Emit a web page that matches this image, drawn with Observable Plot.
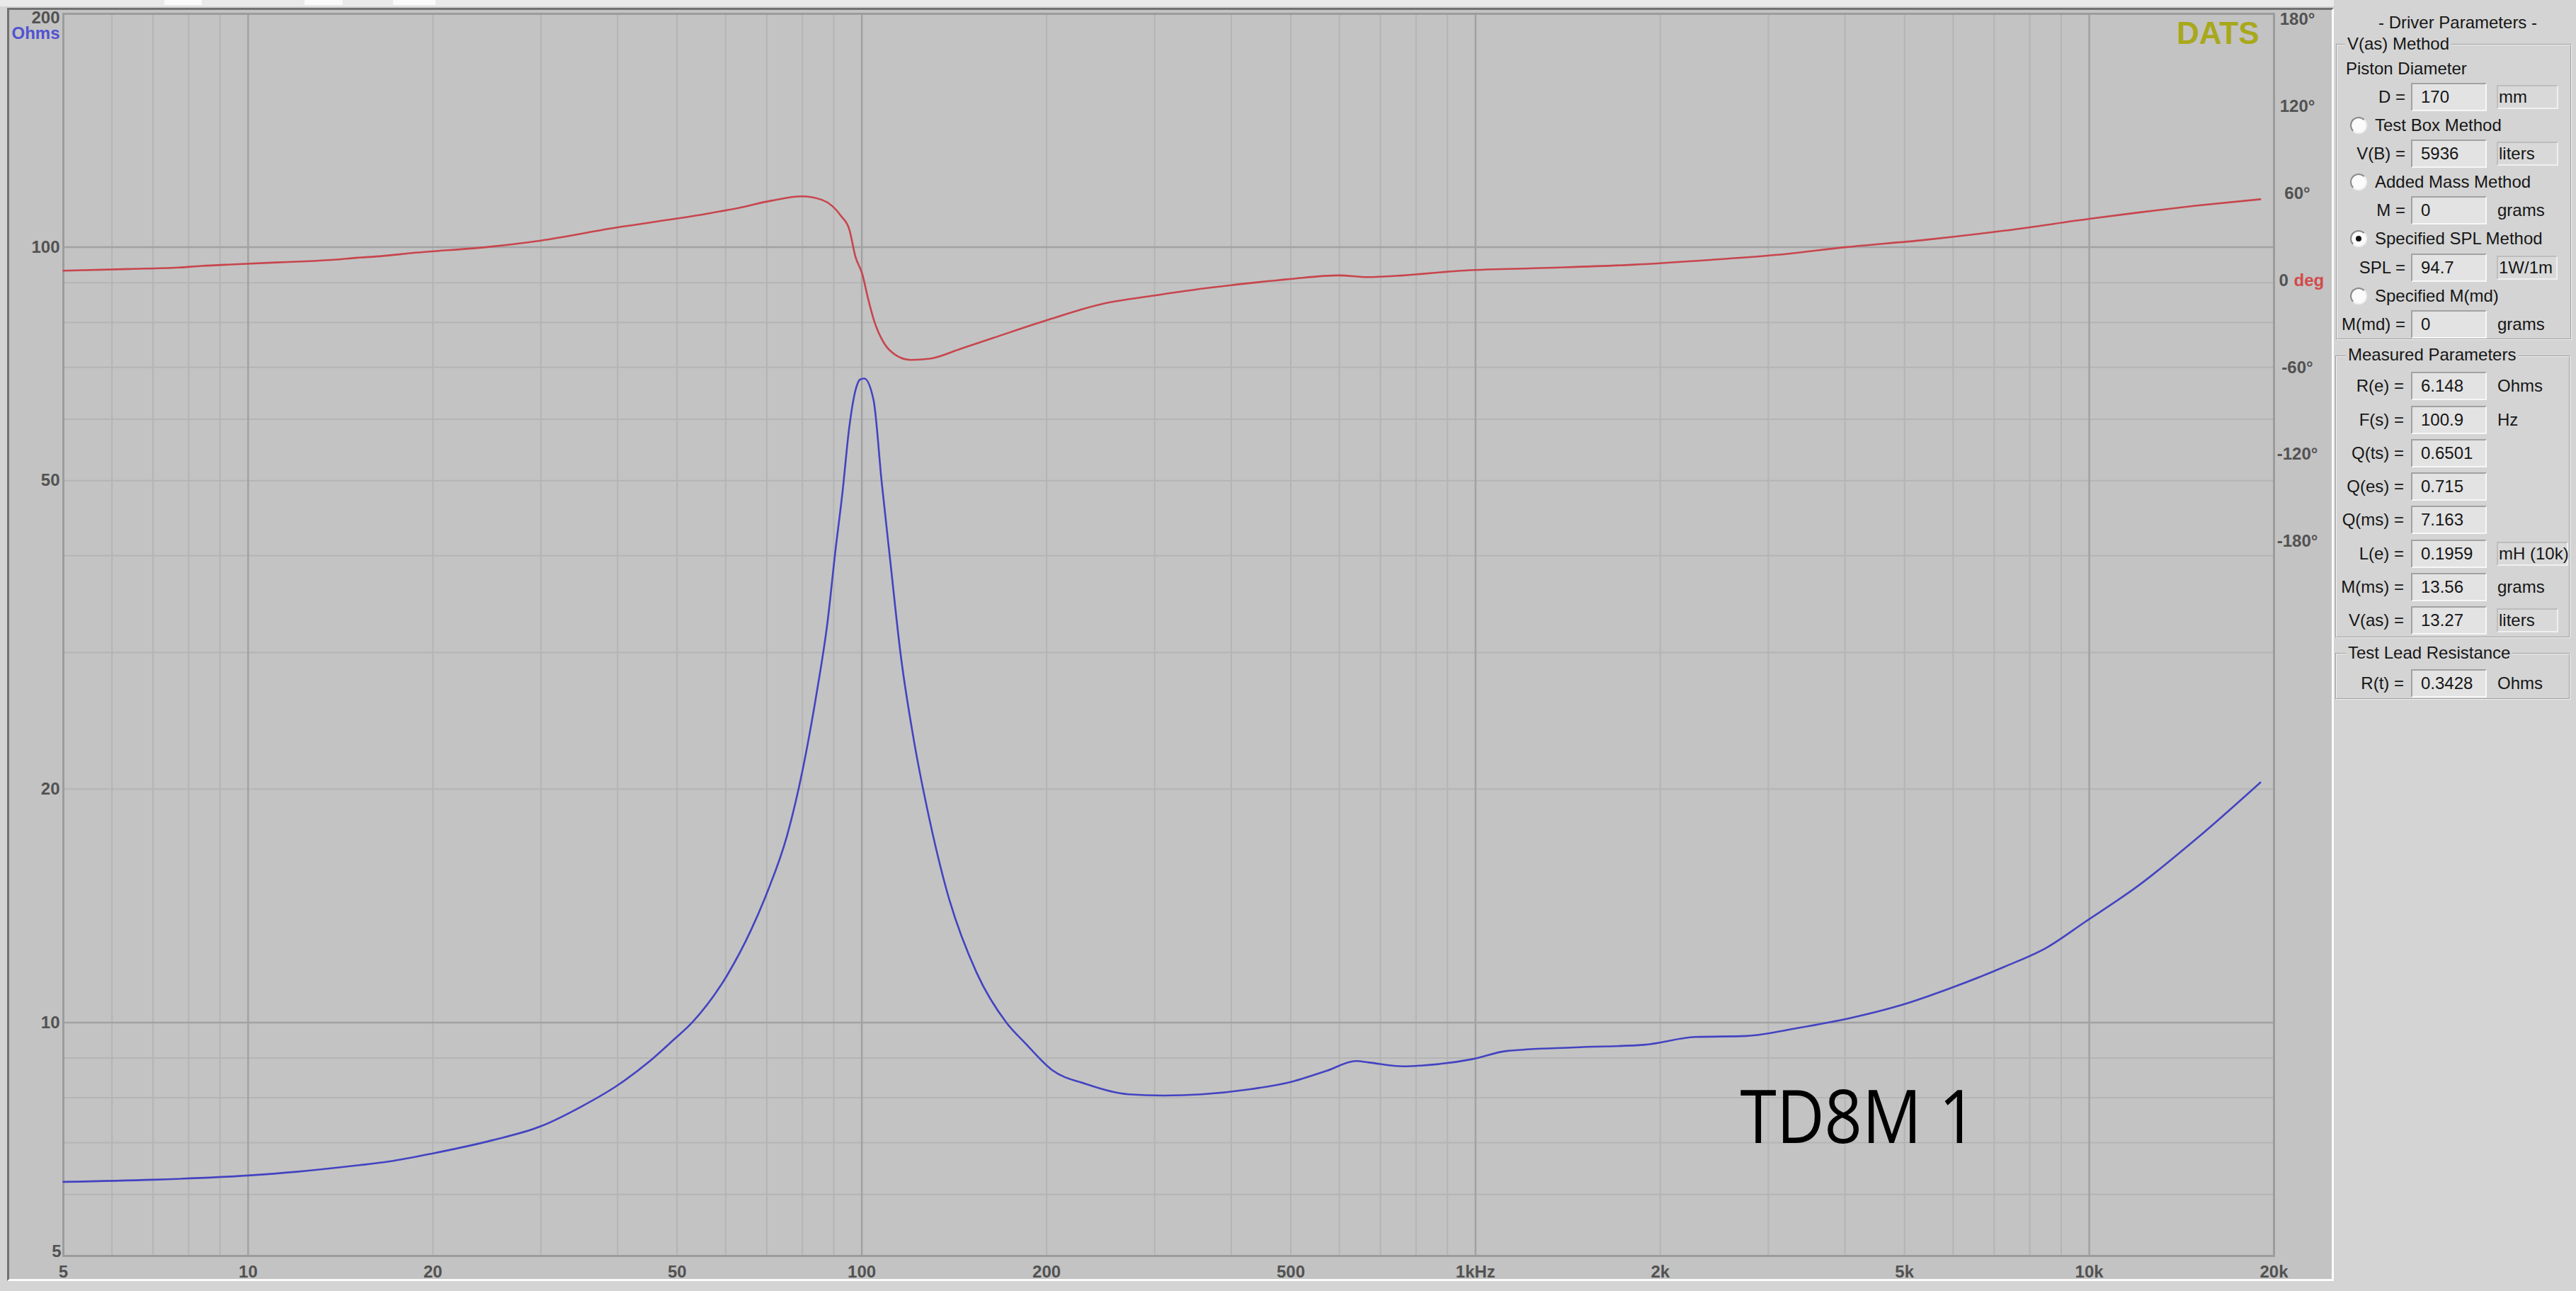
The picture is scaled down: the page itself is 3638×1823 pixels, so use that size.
<!DOCTYPE html>
<html>
<head>
<meta charset="utf-8">
<script src="https://cdn.jsdelivr.net/npm/d3@7"></script>
<script src="https://cdn.jsdelivr.net/npm/@observablehq/plot@0.6"></script>
<style>
html,body{margin:0;padding:0;}
body{width:3638px;height:1823px;background:#d4d4d4;position:relative;overflow:hidden;font-family:"Liberation Sans",Arial,sans-serif;color:#161616;}
.abs{position:absolute;box-sizing:border-box;}
#win{left:10px;top:11px;width:3286px;height:1798px;background:#c3c3c3;border-left:3px solid #727272;border-top:3px solid #727272;border-right:3px solid #fbfbfb;border-bottom:3px solid #fbfbfb;}
.svgwrap{position:absolute;left:0;top:0;}
.lbl{position:absolute;font-size:24px;line-height:28px;height:28px;white-space:nowrap;}
.box{position:absolute;box-sizing:border-box;height:40px;background:#e3e3e3;border-top:2px solid #a2a2a2;border-left:2px solid #a2a2a2;border-bottom:2px solid #f7f7f7;border-right:2px solid #f7f7f7;font-size:24px;line-height:36px;padding-left:12px;white-space:nowrap;}
.ubox{position:absolute;box-sizing:border-box;height:34px;background:#d9d9d9;border-top:2px solid #bdbdbd;border-left:2px solid #bdbdbd;border-bottom:2px solid #efefef;border-right:2px solid #efefef;font-size:24px;line-height:30px;padding-left:1px;white-space:nowrap;}
.grp{position:absolute;box-sizing:border-box;border:2px groove #f2f2f2;}
.gtitle{position:absolute;font-size:24px;line-height:28px;height:28px;background:#d4d4d4;padding:0 3px;white-space:nowrap;}
.radio{position:absolute;box-sizing:border-box;width:24px;height:24px;border-radius:50%;background:#fbfbfb;border-top:2px solid #8a8a8a;border-left:2px solid #8a8a8a;border-bottom:2px solid #f0f0f0;border-right:2px solid #f0f0f0;}
.dot{position:absolute;width:8px;height:8px;border-radius:50%;background:#111;left:6px;top:6px;}
</style>
</head>
<body>
<div class="abs" style="left:0;top:0;width:3296px;height:9px;background:#e9e9e9;"></div>
<div class="abs" style="left:232px;top:0;width:53px;height:7px;background:#fafafa;"></div>
<div class="abs" style="left:430px;top:0;width:54px;height:7px;background:#fafafa;"></div>
<div class="abs" style="left:555px;top:0;width:60px;height:7px;background:#fafafa;"></div>
<div id="win" class="abs"></div>
<div id="impwrap" class="svgwrap"></div>
<div id="phwrap" class="svgwrap"></div>
<script>
// ---------- data ----------
const impFreq = [5, 7, 10, 12, 15, 17, 20, 25, 30, 35, 40, 45, 49.2, 52.9, 60.3, 66.1, 70.3, 75.5, 80.2, 84.4, 87.9, 90.5, 93.0, 95.4, 97.7, 99.3, 100.9, 104.5, 107.7, 111.1, 115.7, 121.7, 128.1, 137.5, 153.8, 172, 185, 204, 232, 272, 310, 358, 428, 502, 571, 639, 671, 763, 814, 988, 1123, 1454, 1881, 2280, 2765, 3356, 4072, 4938, 5988, 7269, 8536, 9866, 12000, 15000, 19000];
const impOhm = [6.23, 6.27, 6.35, 6.42, 6.54, 6.62, 6.78, 7.05, 7.35, 7.8, 8.3, 8.9, 9.48, 10.0, 11.5, 13.2, 14.8, 17.4, 21.3, 26.6, 32.8, 40.4, 48.3, 58.6, 65.5, 67.5, 67.7, 63.5, 49.9, 39.8, 29.8, 23.0, 18.7, 14.8, 11.6, 10.0, 9.39, 8.69, 8.33, 8.08, 8.05, 8.08, 8.20, 8.39, 8.66, 8.92, 8.88, 8.78, 8.80, 8.97, 9.19, 9.29, 9.36, 9.58, 9.61, 9.84, 10.13, 10.53, 11.1, 11.8, 12.5, 13.5, 15.0, 17.3, 20.4];
const phaseFreq = [5, 6.4, 7.7, 8.4, 9.5, 11.1, 12.4, 13.8, 15.1, 16.5, 18.5, 25, 30, 40, 50, 56.2, 63.3, 71.2, 79.8, 86.2, 92.6, 95.4, 97.6, 100.2, 102.3, 104.8, 108.6, 113.2, 120.1, 129, 145.2, 163.6, 200, 247.6, 300, 361, 403, 499, 599, 666, 764, 946, 1246, 1796, 2435, 3108, 4028, 5382, 7301, 10050, 11890, 14890, 19000];
const phaseDeg = [6.7, 7.9, 8.9, 10.0, 11.1, 12.4, 13.2, 14.3, 15.7, 16.8, 18.9, 23.4, 27.5, 36.6, 42.7, 46.2, 50.2, 55.0, 58.0, 55.5, 44.2, 35.2, 16.5, 4.2, -12.0, -28.3, -43.0, -51.1, -54.8, -54.0, -47.0, -39.7, -27.5, -16.0, -10.4, -5.5, -3.1, 1.0, 3.5, 2.3, 3.5, 6.7, 8.4, 10.8, 14.3, 17.7, 23.0, 27.9, 34.4, 42.6, 46.6, 51.5, 56.0];

const xTicks = [5, 10, 20, 50, 100, 200, 500, 1000, 2000, 5000, 10000, 20000];
const xTickLabels = ["5", "10", "20", "50", "100", "200", "500", "1kHz", "2k", "5k", "10k", "20k"];
const yTicksMid = [100, 50, 20, 10];
const yTickTop = [200];
const yTickBottom = [5];
const yUnit = ["Ohms"];
const phaseTicks = [180, 120, 60, -60, -120, -180];
const gridFreqMinor = [6,7,8,9,20,30,40,50,60,70,80,90,200,300,400,500,600,700,800,900,2000,3000,4000,5000,6000,7000,8000,9000];
const gridFreqMajor = [10, 100, 1000, 10000];
const gridOhmMinor = [6,7,8,9,20,30,40,50,60,70,80,90];
const gridOhmMajor = [10, 100];
const brand = ["DATS"];
const annotation = ["TD8M 1"];

// ---------- chart ----------
const W = 3638, H = 1823;
const mL = 89, mR = W - 3211, mT = 19, mB = H - 1773;
const impData = impFreq.map((f, i) => ({f, z: impOhm[i]}));
const phData = phaseFreq.map((f, i) => ({f, d: phaseDeg[i]}));
const tickFont = {fontSize: 24, fontWeight: "bold", fill: "#525252"};

const imp = Plot.plot({
  width: W, height: H,
  marginLeft: mL, marginRight: mR, marginTop: mT, marginBottom: mB,
  style: {background: "transparent", fontFamily: "Liberation Sans, Arial, sans-serif"},
  x: {type: "log", domain: [5, 20000], axis: null},
  y: {type: "log", domain: [5, 200], axis: null},
  marks: [
    Plot.ruleX(gridFreqMinor, {stroke: "#b4b4b4", strokeWidth: 2}),
    Plot.ruleY(gridOhmMinor, {stroke: "#b4b4b4", strokeWidth: 2}),
    Plot.ruleX(gridFreqMajor, {stroke: "#a2a2a2", strokeWidth: 2.5}),
    Plot.ruleY(gridOhmMajor, {stroke: "#a2a2a2", strokeWidth: 2.5}),
    Plot.frame({stroke: "#9c9c9c", strokeWidth: 3}),
    Plot.line(impData, {x: "f", y: "z", stroke: "#4343c2", strokeWidth: 2.6, curve: "monotone-x"}),
    Plot.text(xTicks, {x: d => d, frameAnchor: "bottom", text: (d, i) => xTickLabels[i], dy: 13, lineAnchor: "top", textAnchor: "middle", ...tickFont}),
    Plot.text(yTicksMid, {frameAnchor: "left", y: d => d, text: d => String(d), dx: -5, lineAnchor: "middle", textAnchor: "end", ...tickFont}),
    Plot.text(yTickTop, {frameAnchor: "left", y: d => d, text: d => String(d), dx: -5, dy: 6, lineAnchor: "middle", textAnchor: "end", ...tickFont}),
    Plot.text(yTickBottom, {frameAnchor: "left", y: d => d, text: d => String(d), dx: -3, dy: -6, lineAnchor: "middle", textAnchor: "end", ...tickFont}),
    Plot.text(yUnit, {frameAnchor: "top-left", text: d => d, dx: -5, dy: 28, lineAnchor: "middle", textAnchor: "end", fontSize: 24, fontWeight: "bold", fill: "#5252d2"}),
    Plot.text(brand, {frameAnchor: "top-right", text: d => d, dx: -21, dy: 28, lineAnchor: "middle", textAnchor: "end", fontSize: 44, fontWeight: "bold", fill: "#a8a81c"}),
    Plot.text(annotation, {frameAnchor: "top-left", text: d => d, dx: 2457 - mL, dy: 1580 - mT, lineAnchor: "middle", textAnchor: "start", fontSize: 105, fontFamily: "Open Sans", fill: "#000"})
  ]
});
d3.select(imp).selectAll("text").filter(function(){ return this.textContent === "TD8M 1"; })
  .attr("textLength", 334).attr("lengthAdjust", "spacingAndGlyphs");
document.getElementById("impwrap").appendChild(imp);

const ph = Plot.plot({
  width: W, height: H,
  marginLeft: mL, marginRight: mR, marginTop: 27, marginBottom: H - 764,
  style: {background: "transparent", fontFamily: "Liberation Sans, Arial, sans-serif"},
  x: {type: "log", domain: [5, 20000], axis: null},
  y: {domain: [-180, 180], axis: null},
  marks: [
    Plot.line(phData, {x: "f", y: "d", stroke: "#c8454d", strokeWidth: 2.6, curve: "monotone-x"}),
    Plot.text(phaseTicks, {frameAnchor: "right", y: d => d, text: d => d + "°", dx: 33, lineAnchor: "middle", textAnchor: "middle", ...tickFont}),
    Plot.text(["0"], {frameAnchor: "right", y: () => 0, text: d => d, dx: 7, lineAnchor: "middle", textAnchor: "start", ...tickFont}),
    Plot.text(["deg"], {frameAnchor: "right", y: () => 0, text: d => d, dx: 28, lineAnchor: "middle", textAnchor: "start", fontSize: 24, fontWeight: "bold", fill: "#d24a4a"})
  ]
});
document.getElementById("phwrap").appendChild(ph);

// ---------- right panel (UI texts) ----------
const g1Fields = [
  {y: 137, label: "D =", value: "170", unit: "mm", ubox: true},
  {y: 217, label: "V(B) =", value: "5936", unit: "liters", ubox: true},
  {y: 297, label: "M =", value: "0", unit: "grams", ubox: false},
  {y: 378, label: "SPL =", value: "94.7", unit: "1W/1m", ubox: true},
  {y: 458, label: "M(md) =", value: "0", unit: "grams", ubox: false}
];
const g1Radios = [
  {y: 177, label: "Test Box Method", on: false},
  {y: 257, label: "Added Mass Method", on: false},
  {y: 337, label: "Specified SPL Method", on: true},
  {y: 418, label: "Specified M(md)", on: false}
];
const g2Labels = ["R(e) =", "F(s) =", "Q(ts) =", "Q(es) =", "Q(ms) =", "L(e) =", "M(ms) =", "V(as) ="];
const g2Values = ["6.148", "100.9", "0.6501", "0.715", "7.163", "0.1959", "13.56", "13.27"];
const g2Units = ["Ohms", "Hz", "", "", "", "mH (10k)", "grams", "liters"];
const g2Rows = [545, 593, 640, 687, 734, 782, 829, 876];

function add(cls, style, text) {
  const e = document.createElement("div");
  e.className = cls;
  Object.assign(e.style, style);
  if (text != null) e.textContent = text;
  document.body.appendChild(e);
  return e;
}
function field(y, label, value, unit, ubox, labelRight, unitWidth) {
  add("lbl", {left: (labelRight - 200) + "px", width: "200px", top: (y - 14) + "px", textAlign: "right"}, label);
  add("box", {left: "3405px", width: "107px", top: (y - 20) + "px"}, value);
  if (unit) {
    if (ubox) add("ubox", {left: "3526px", width: unitWidth + "px", top: (y - 17) + "px"}, unit);
    else add("lbl", {left: "3527px", top: (y - 14) + "px"}, unit);
  }
}
add("lbl", {left: "3359px", top: "18px"}, "- Driver Parameters -");
add("grp", {left: "3299px", top: "62px", width: "333px", height: "418px"});
add("gtitle", {left: "3312px", top: "48px"}, "V(as) Method");
add("lbl", {left: "3313px", top: "83px"}, "Piston Diameter");
g1Fields.forEach(f => field(f.y, f.label, f.value, f.unit, f.ubox, 3397, f.unit === "1W/1m" ? 86 : 87));
g1Radios.forEach(r => {
  const c = add("radio", {left: "3319px", top: (r.y - 12) + "px"});
  if (r.on) { const d = document.createElement("div"); d.className = "dot"; c.appendChild(d); }
  add("lbl", {left: "3354px", top: (r.y - 14) + "px"}, r.label);
});
add("grp", {left: "3298px", top: "502px", width: "332px", height: "399px"});
add("gtitle", {left: "3313px", top: "487px"}, "Measured Parameters");
g2Rows.forEach((y, i) => field(y, g2Labels[i], g2Values[i], g2Units[i], i === 5 || i === 7, 3395, i === 5 ? 101 : 87));
add("grp", {left: "3298px", top: "922px", width: "332px", height: "66px"});
add("gtitle", {left: "3313px", top: "908px"}, "Test Lead Resistance");
field(965, "R(t) =", "0.3428", "Ohms", false, 3395, 87);
</script>
</body>
</html>
